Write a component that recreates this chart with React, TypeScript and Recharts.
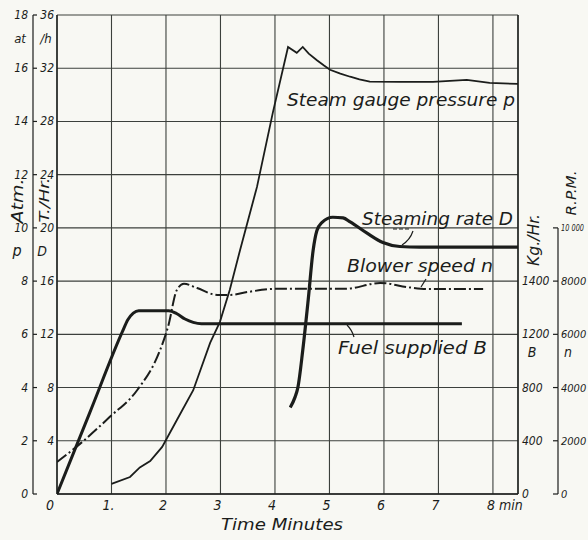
import React from "react";
import { LineChart, Line, XAxis, YAxis, CartesianGrid, Customized } from "recharts";

// axis ticks
const minuteTicks = [0, 1, 2, 3, 4, 5, 6, 7, 8];
const pressureTicks = [0, 2, 4, 6, 8, 10, 12, 14, 16, 18];
const steamTicks = [0, 4, 8, 12, 16, 20, 24, 28, 32, 36];
const fuelTicks = [0, 400, 800, 1200, 1600];
const fuelTickLabels = ["0", "400", "800", "1200", "1400"];
const blowerTicks = [0, 2000, 4000, 6000, 8000, 10000];
const blowerTickLabels = ["0", "2000", "4000", "6000", "8000", "10 000"];

// steam gauge pressure p (atm)
const pressureTime = [1.0, 1.34, 1.52, 1.71, 1.93, 2.2, 2.5, 2.81, 2.99, 3.17, 3.36, 3.67, 3.96, 4.24, 4.4, 4.51, 4.62, 4.77, 4.9, 5.01, 5.2, 5.38, 5.55, 5.74, 6.3, 6.9, 7.52, 7.94, 8.46];
const pressureAtm = [0.38, 0.64, 1.0, 1.24, 1.77, 2.78, 3.9, 5.68, 6.47, 7.67, 9.17, 11.54, 14.32, 16.8, 16.58, 16.8, 16.55, 16.3, 16.1, 15.94, 15.8, 15.68, 15.58, 15.5, 15.49, 15.49, 15.56, 15.45, 15.41];

// fuel supplied B (kg/hr)
const fuelTime = [0, 0.6, 1.2, 1.3, 1.4, 1.5, 2.05, 2.2, 2.35, 2.5, 2.65, 7.43];
const fuelKgHr = [0, 610, 1220, 1310, 1360, 1378, 1378, 1355, 1315, 1290, 1280, 1280];

// blower speed n (rpm)
const blowerTime = [0, 0.46, 0.97, 1.47, 1.89, 2.04, 2.2, 2.33, 2.57, 2.94, 3.17, 3.5, 4.0, 5.3, 5.93, 6.48, 6.84, 7.82];
const blowerRpm = [1200, 1950, 2900, 3900, 5400, 6300, 7670, 7900, 7740, 7480, 7480, 7590, 7710, 7710, 7930, 7760, 7700, 7700];

// steaming rate D (t/hr)
const steamTime = [4.28, 4.37, 4.42, 4.51, 4.61, 4.7, 4.77, 4.86, 5.06, 5.25, 5.38, 5.69, 5.98, 6.29, 6.66, 8.46];
const steamRate = [6.5, 7.3, 8.0, 10.8, 14.6, 18.3, 19.8, 20.4, 20.8, 20.75, 20.45, 19.6, 18.9, 18.6, 18.55, 18.55];

const pressureData = pressureTime.map((t, i) => ({ t, p: pressureAtm[i] }));
const fuelData = fuelTime.map((t, i) => ({ t, B: fuelKgHr[i] }));
const blowerData = blowerTime.map((t, i) => ({ t, n: blowerRpm[i] }));
const steamData = steamTime.map((t, i) => ({ t, D: steamRate[i] }));

const W = 588;
const H = 540;
const TOP = 15;
const PLOT_H = 479;
const N_STEP = (PLOT_H * 2000) / 18000;

const font = "'DejaVu Sans Condensed', 'Liberation Sans Narrow', 'DejaVu Sans', sans-serif";
const ink = "#1b1d1b";
const gridInk = "#3c403c";

const txt = { fontFamily: font, fontStyle: "italic" as const, fill: ink };

function MinuteTick({ x, y, payload }: any) {
  const v = payload.value;
  const label = v === 8 ? "8 min" : v === 1 ? "1." : String(v);
  return (
    <text x={v === 8 ? x - 6 : v === 0 ? x - 7 : x - 3} y={y} dy={11} textAnchor={v === 8 ? "start" : "middle"} fontSize={14} {...txt}>
      {label}
    </text>
  );
}

function PressureTick({ x, y, payload }: any) {
  return (
    <g>
      <line x1={x + 5} x2={x + 9} y1={y} y2={y} stroke={ink} strokeWidth={1.2} />
      <text x={x} y={y} dy={4} textAnchor="end" fontSize={12} {...txt}>{payload.value}</text>
    </g>
  );
}

function SteamTick({ x, y, payload }: any) {
  // the t/hr scale carries no label at zero
  if (payload.value === 0) return <g />;
  return (
    <text x={x} y={y} dy={4} textAnchor="end" fontSize={12} {...txt}>{payload.value}</text>
  );
}

function FuelTick({ x, y, payload, index }: any) {
  return (
    <text x={x} y={y} dy={4} textAnchor="start" fontSize={12} {...txt}>{fuelTickLabels[index] ?? payload.value}</text>
  );
}

function BlowerTick({ x, y, payload, index }: any) {
  const lx = x - 2;
  const label = blowerTickLabels[index] ?? String(payload.value);
  const long = label.length > 4;
  return (
    <g>
      <line x1={lx - 5} x2={lx} y1={y} y2={y} stroke={ink} strokeWidth={1.2} />
      {payload.value > 0 && <line x1={lx} x2={lx} y1={y} y2={y + N_STEP} stroke={ink} strokeWidth={1.2} />}
      <text x={x + 1} y={y} dy={long ? 3 : 4} textAnchor="start" fontSize={long ? 8 : 11} {...txt}
        {...(long ? { textLength: 23, lengthAdjust: "spacingAndGlyphs" } : {})}>
        {label}
      </text>
    </g>
  );
}

function Notes() {
  return (
    <g>
      <text x={287} y={106} fontSize={18} textLength={228} lengthAdjust="spacingAndGlyphs" {...txt}>Steam gauge pressure p</text>
      <text x={362} y={225} fontSize={17} textLength={151} lengthAdjust="spacingAndGlyphs" {...txt}>Steaming rate D</text>
      <text x={347} y={272} fontSize={17} textLength={146} lengthAdjust="spacingAndGlyphs" {...txt}>Blower speed n</text>
      <text x={338} y={354} fontSize={17} textLength={149} lengthAdjust="spacingAndGlyphs" {...txt}>Fuel supplied B</text>
      <text x={282} y={530} fontSize={16} textAnchor="middle" textLength={122} lengthAdjust="spacingAndGlyphs" {...txt}>Time Minutes</text>

      <path d="M 393 229 L 410 229" stroke={ink} strokeWidth={1} strokeDasharray="4 2" fill="none" />
      <path d="M 413 231 Q 410 240 402 245" stroke={ink} strokeWidth={1.2} fill="none" />
      <path d="M 421 287 L 426 279" stroke={ink} strokeWidth={1.2} fill="none" />
      <path d="M 347 325 Q 352 330 354 337" stroke={ink} strokeWidth={1.2} fill="none" />

      <text x={20} y={43} fontSize={13} textAnchor="middle" {...txt}>at</text>
      <text x={46} y={43} fontSize={13} textAnchor="middle" {...txt}>/h</text>
      <text x={17} y={201} fontSize={16} textAnchor="middle" dominantBaseline="central" transform="rotate(-90 17 201)" textLength={45} lengthAdjust="spacingAndGlyphs" {...txt}>Atm.</text>
      <text x={44} y={200} fontSize={14} textAnchor="middle" dominantBaseline="central" transform="rotate(-90 44 200)" textLength={45} lengthAdjust="spacingAndGlyphs" {...txt}>T./Hr.</text>
      <text x={17} y={256} fontSize={16} textAnchor="middle" {...txt}>p</text>
      <text x={42} y={256} fontSize={14} textAnchor="middle" {...txt}>D</text>

      <text x={534} y={240} fontSize={15} textAnchor="middle" dominantBaseline="central" transform="rotate(-90 534 240)" textLength={52} lengthAdjust="spacingAndGlyphs" {...txt}>Kg./Hr.</text>
      <text x={571} y={193} fontSize={14} textAnchor="middle" dominantBaseline="central" transform="rotate(-90 571 193)" textLength={45} lengthAdjust="spacingAndGlyphs" {...txt}>R.P.M.</text>
      <text x={532} y={357} fontSize={14} textAnchor="middle" {...txt}>B</text>
      <text x={568} y={357} fontSize={14} textAnchor="middle" {...txt}>n</text>
    </g>
  );
}

export default function App() {
  return (
    <div style={{ position: "absolute", left: 0, top: 0, width: W, height: H, background: "#f8f8f3" }}>
      <LineChart width={W} height={H} margin={{ top: TOP, right: 0, bottom: 0, left: 0 }}>
        <CartesianGrid yAxisId="D" stroke={gridInk} strokeWidth={1.1} />
        <XAxis
          dataKey="t"
          type="number"
          domain={[0, 8.46]}
          ticks={minuteTicks}
          allowDataOverflow
          height={46}
          tickSize={0}
          tickMargin={5}
          tickLine={false}
          axisLine={{ stroke: ink, strokeWidth: 1.4 }}
          tick={<MinuteTick />}
        />
        <YAxis yAxisId="D" orientation="left" width={24} domain={[0, 36]} ticks={steamTicks} tickSize={0} tickMargin={3} tickLine={false} axisLine={{ stroke: ink, strokeWidth: 1.4 }} tick={<SteamTick />} />
        <YAxis yAxisId="p" orientation="left" width={33} domain={[0, 18]} ticks={pressureTicks} tickSize={0} tickMargin={5} tickLine={false} axisLine={{ stroke: ink, strokeWidth: 1.2 }} tick={<PressureTick />} />
        <YAxis yAxisId="B" orientation="right" width={40} domain={[0, 3600]} ticks={fuelTicks} tickSize={0} tickMargin={4} tickLine={false} axisLine={{ stroke: ink, strokeWidth: 1.4 }} tick={<FuelTick />} />
        <YAxis yAxisId="n" orientation="right" width={30} domain={[0, 18000]} ticks={blowerTicks} tickSize={0} tickMargin={2} tickLine={false} axisLine={false} tick={<BlowerTick />} />

        <Line yAxisId="p" data={pressureData} dataKey="p" type="linear" stroke={ink} strokeWidth={1.8} dot={false} isAnimationActive={false} />
        <Line yAxisId="B" data={fuelData} dataKey="B" type="monotone" stroke={ink} strokeWidth={3} dot={false} isAnimationActive={false} />
        <Line yAxisId="n" data={blowerData} dataKey="n" type="monotone" stroke={ink} strokeWidth={2} strokeDasharray="12 3 2 3" dot={false} isAnimationActive={false} />
        <Line yAxisId="D" data={steamData} dataKey="D" type="monotone" stroke={ink} strokeWidth={3.2} dot={false} isAnimationActive={false} />

        <Customized component={Notes} />
      </LineChart>
    </div>
  );
}
